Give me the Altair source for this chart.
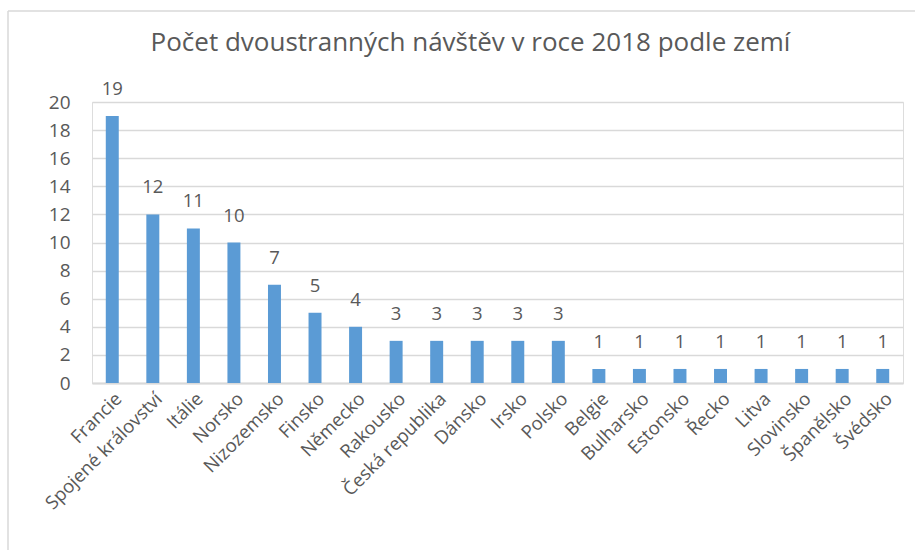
import altair as alt
import pandas as pd

countries = ["Francie", "Spojené království", "Itálie", "Norsko", "Nizozemsko", "Finsko",
             "Německo", "Rakousko", "Česká republika", "Dánsko", "Irsko", "Polsko",
             "Belgie", "Bulharsko", "Estonsko", "Řecko", "Litva", "Slovinsko",
             "Španělsko", "Švédsko"]
visits = [19, 12, 11, 10, 7, 5, 4, 3, 3, 3, 3, 3, 1, 1, 1, 1, 1, 1, 1, 1]
y_ticks = list(range(0, 21, 2))

df = pd.DataFrame({"country": countries, "visits": visits})

FONT = "Open Sans"
GREY = "#595959"

x = alt.X("country:N", sort=countries, title=None,
          scale=alt.Scale(paddingInner=0.68, paddingOuter=0.34),
          axis=alt.Axis(labelAngle=-45, labelAlign="right", labelBaseline="top",
                        labelFontSize=18.5, labelColor=GREY, labelFont=FONT,
                        labelPadding=6, ticks=False, domainColor="#d9d9d9",
                        domainWidth=2, labelOverlap=False, labelLimit=300))
y = alt.Y("visits:Q", title=None,
          scale=alt.Scale(domain=[0, 20], nice=False),
          axis=alt.Axis(values=y_ticks, labelFontSize=19, labelColor=GREY, labelFont=FONT,
                        ticks=False, domain=False, gridColor="#d9d9d9", gridWidth=1.5,
                        labelPadding=22, labelOverlap=False))

base = alt.Chart(df).encode(x=x, y=y)
bars = base.mark_bar(color="#5B9BD5")
labels = base.mark_text(baseline="bottom", dy=-17, fontSize=18.5, color=GREY, font=FONT).encode(
    text="visits:Q")

border_top = alt.Chart().mark_rule(color="#d9d9d9", strokeWidth=1.5).encode(
    x=alt.value(-84), x2=alt.value(830), y=alt.value(-91))
border_left = alt.Chart().mark_rule(color="#d9d9d9", strokeWidth=1.5).encode(
    x=alt.value(-84), y=alt.value(-91), y2=alt.value(460))

chart = alt.layer(bars, labels, border_top, border_left).properties(
    width=811, height=281,
    title=alt.Title("Počet dvoustranných návštěv v roce 2018 podle zemí",
                    fontSize=26, font=FONT, color=GREY, fontWeight="normal",
                    anchor="middle", frame="group", dx=-27, offset=-46),
    autosize=alt.AutoSizeParams(type="none"),
    padding={"left": 92, "top": 102, "right": 12, "bottom": 167},
).configure_view(stroke=None).configure(background="white")

chart.save("out.html", embed_options={"renderer": "svg", "actions": False})
